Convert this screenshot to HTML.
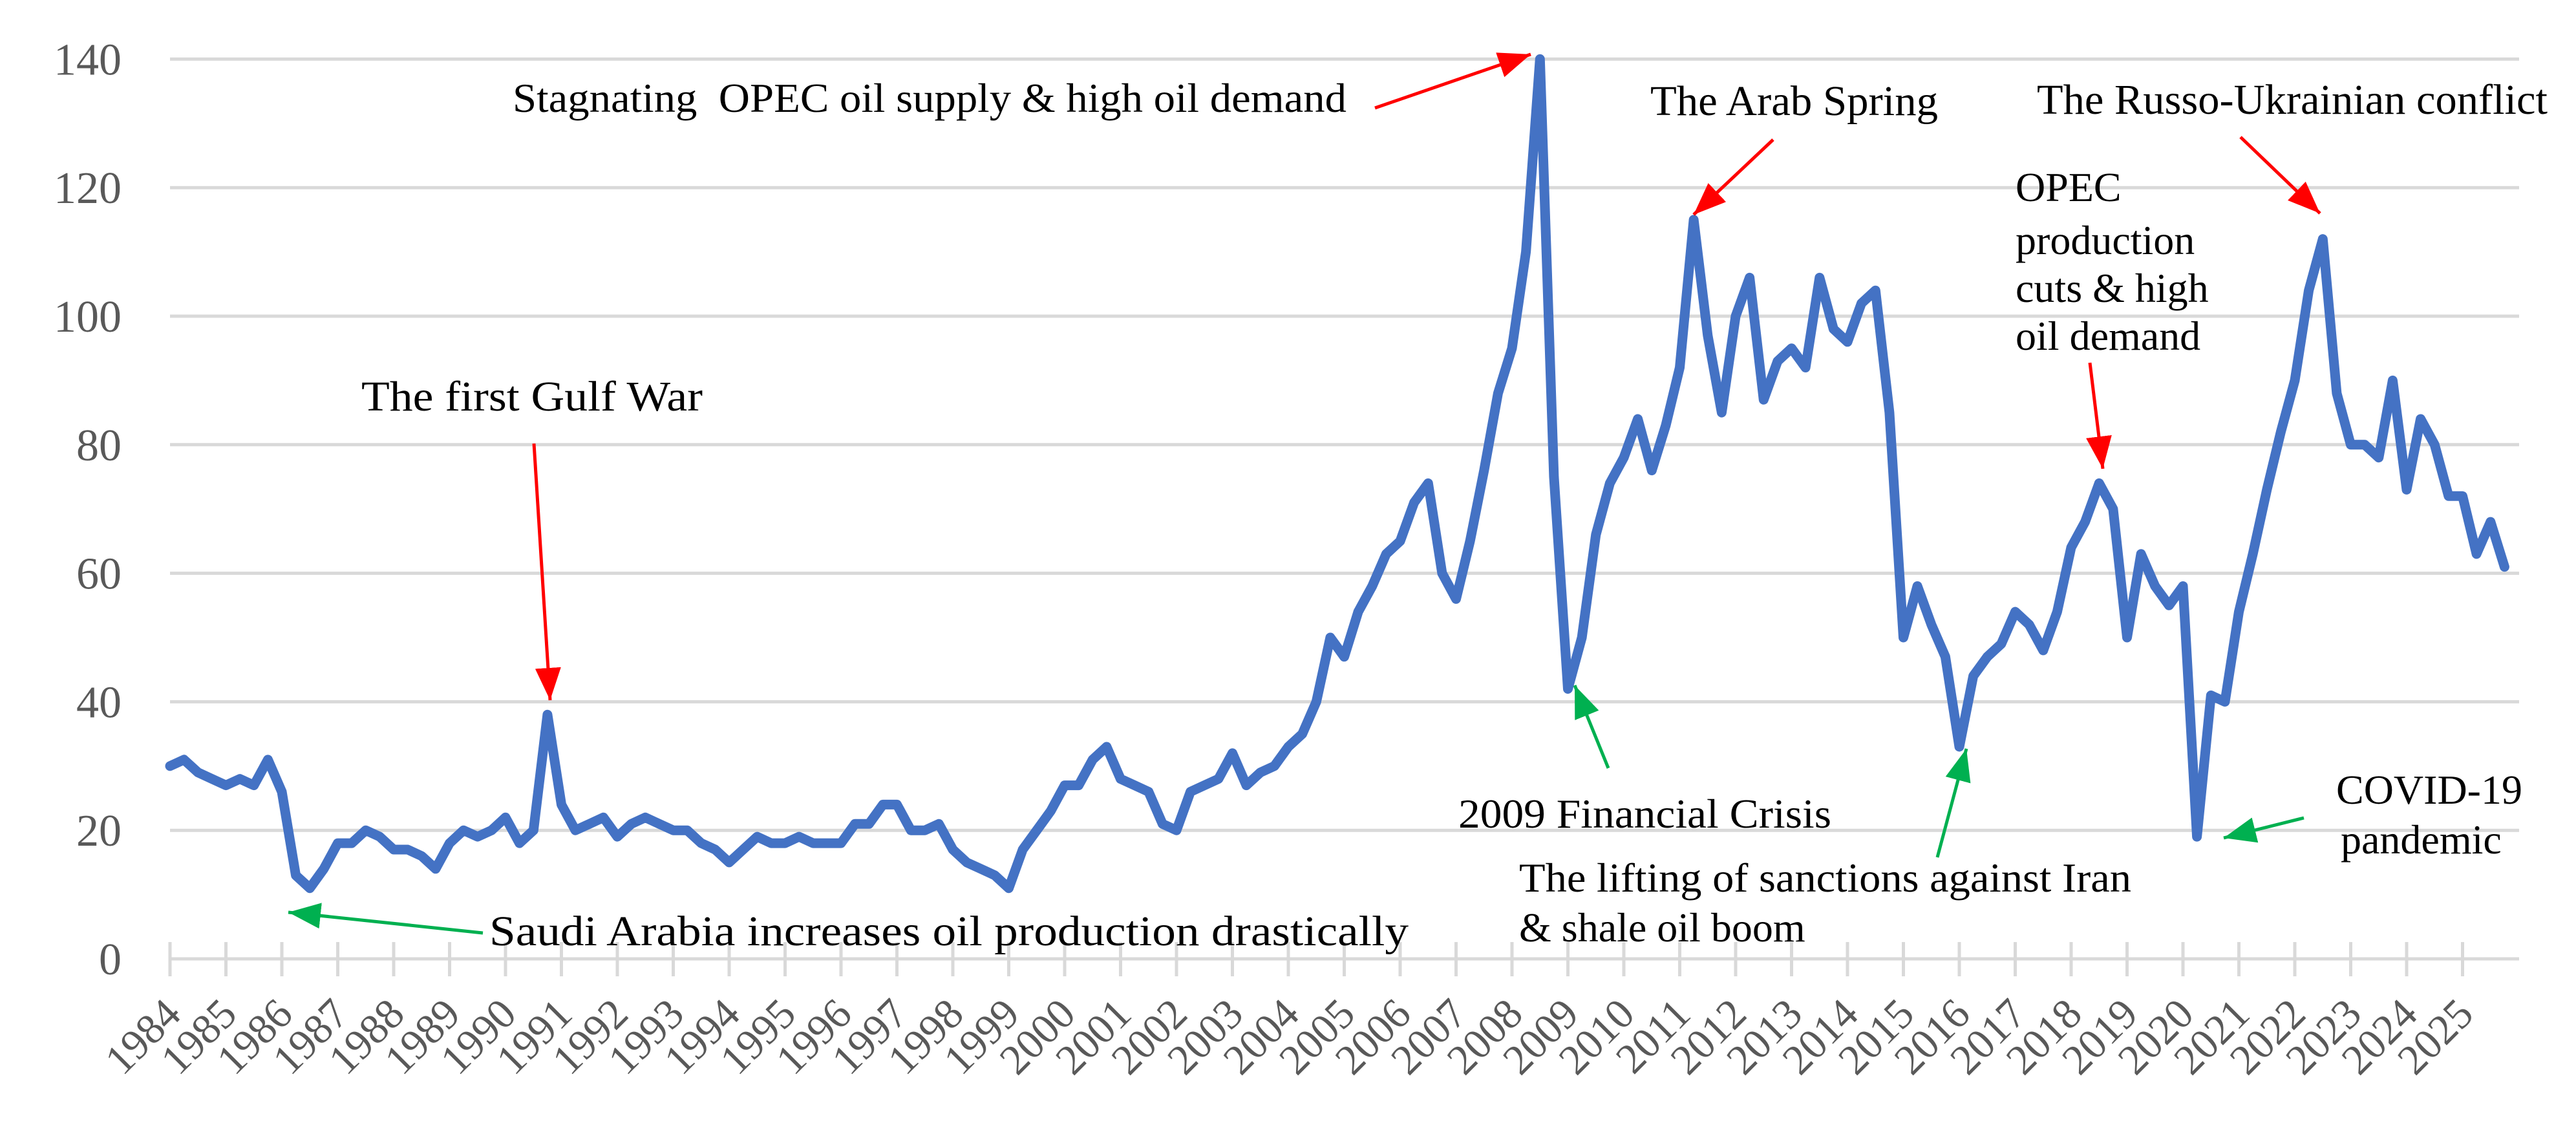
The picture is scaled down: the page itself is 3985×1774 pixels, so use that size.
<!DOCTYPE html>
<html>
<head>
<meta charset="utf-8">
<style>
html,body{margin:0;padding:0;background:#fff;}
svg{display:block;}
text{font-family:"Liberation Serif","Times New Roman",serif;}
</style>
</head>
<body>
<svg id="chart" width="3985" height="1774" viewBox="0 0 3985 1774" xmlns="http://www.w3.org/2000/svg">
<defs>
<marker id="redhead" markerUnits="userSpaceOnUse" markerWidth="60" markerHeight="50" refX="50" refY="20" orient="auto">
<path d="M0,0 L50,20 L0,40 Z" fill="#ff0000"/>
</marker>
<marker id="greenhead" markerUnits="userSpaceOnUse" markerWidth="60" markerHeight="50" refX="50" refY="20" orient="auto">
<path d="M0,0 L50,20 L0,40 Z" fill="#00b050"/>
</marker>
</defs>
<g id="grid"></g>
<g id="yticks"></g>
<g id="xaxis"></g>
<g id="series"></g>
<g id="annotations">
  <text x="793" y="173" font-size="64" fill="#000" xml:space="preserve" textLength="1290" lengthAdjust="spacingAndGlyphs">Stagnating  OPEC oil supply &amp; high oil demand</text>
  <line x1="2127" y1="167" x2="2368" y2="84" stroke="#ff0000" stroke-width="5" marker-end="url(#redhead)"/>
  <text x="2553" y="178" font-size="66" fill="#000" textLength="445" lengthAdjust="spacingAndGlyphs">The Arab Spring</text>
  <line x1="2743" y1="216" x2="2620" y2="332" stroke="#ff0000" stroke-width="5" marker-end="url(#redhead)"/>
  <text x="3151" y="176" font-size="66" fill="#000" textLength="790" lengthAdjust="spacingAndGlyphs">The Russo-Ukrainian conflict</text>
  <line x1="3466" y1="212" x2="3589" y2="330" stroke="#ff0000" stroke-width="5" marker-end="url(#redhead)"/>
  <text font-size="64" fill="#000">
    <tspan x="3118" y="311">OPEC</tspan>
    <tspan x="3118" y="393">production</tspan>
    <tspan x="3118" y="467">cuts &amp; high</tspan>
    <tspan x="3118" y="541">oil demand</tspan>
  </text>
  <line x1="3233" y1="561" x2="3253" y2="725" stroke="#ff0000" stroke-width="5" marker-end="url(#redhead)"/>
  <text x="559" y="635" font-size="66" fill="#000" textLength="528" lengthAdjust="spacingAndGlyphs">The first Gulf War</text>
  <line x1="826" y1="686" x2="851" y2="1083" stroke="#ff0000" stroke-width="5" marker-end="url(#redhead)"/>
  <text x="757" y="1462" font-size="66" fill="#000" textLength="1422" lengthAdjust="spacingAndGlyphs">Saudi Arabia increases oil production drastically</text>
  <line x1="747" y1="1443" x2="446" y2="1411" stroke="#00b050" stroke-width="5" marker-end="url(#greenhead)"/>
  <text x="2256" y="1280" font-size="64" fill="#000" textLength="577" lengthAdjust="spacingAndGlyphs">2009 Financial Crisis</text>
  <line x1="2488" y1="1188" x2="2436" y2="1060" stroke="#00b050" stroke-width="5" marker-end="url(#greenhead)"/>
  <text font-size="64" fill="#000">
    <tspan x="2350" y="1379" textLength="947" lengthAdjust="spacingAndGlyphs">The lifting of sanctions against Iran</tspan>
    <tspan x="2350" y="1456">&amp; shale oil boom</tspan>
  </text>
  <line x1="2997" y1="1326" x2="3042" y2="1158" stroke="#00b050" stroke-width="5" marker-end="url(#greenhead)"/>
  <text font-size="64" fill="#000">
    <tspan x="3614" y="1243">COVID-19</tspan>
    <tspan x="3621" y="1320">pandemic</tspan>
  </text>
  <line x1="3564" y1="1265" x2="3440" y2="1296" stroke="#00b050" stroke-width="5" marker-end="url(#greenhead)"/>
</g>
</svg>
<script>
// Data (quarterly: Jan, Apr, Jul, Oct) starting 1984
const startYear = 1984;
const prices = [
 30,31,29,28, 27,28,27,31, 26,13,11,14, 18,18,20,19, 17,17,16,14, 18,20,19,20,
 22,18,20,38, 24,20,21,22, 19,21,22,21, 20,20,18,17, 15,17,19,18, 18,19,18,18,
 18,21,21,24, 24,20,20,21, 17,15,14,13, 11,17,20,23, 27,27,31,33, 28,27,26,21,
 20,26,27,28, 32,27,29,30, 33,35,40,50, 47,54,58,63, 65,71,74,60, 56,65,76,88,
 95,110,140,75, 42,50,66,74, 78,84,76,83, 92,115,97,85, 100,106,87,93, 95,92,106,98,
 96,102,104,85, 50,58,52,47, 33,44,47,49, 54,52,48,54, 64,68,74,70, 50,63,58,55,
 58,19,41,40, 54,63,73,82, 90,104,112,88, 80,80,78,90, 73,84,80,72, 72,63,68,61
];
const yTicks = [0,20,40,60,80,100,120,140];
const years = [];
for (let y = 1984; y <= 2025; y++) years.push(y);

const NS = "http://www.w3.org/2000/svg";
const X0 = 263, PX_PER_YEAR = 86.5, PLOT_RIGHT = 3897;
const Y0 = 1483, PX_PER_UNIT = 9.94;
const xScale = t => X0 + (t - startYear) * PX_PER_YEAR;
const yScale = v => Y0 - v * PX_PER_UNIT;

function mk(tag, attrs){ const e = document.createElementNS(NS, tag); for (const k in attrs) e.setAttribute(k, attrs[k]); return e; }

const grid = document.getElementById('grid');
const yt = document.getElementById('yticks');
yTicks.forEach(v => {
  const l = mk('line', {x1: X0, x2: PLOT_RIGHT, y1: yScale(v), y2: yScale(v), stroke: '#d9d9d9', 'stroke-width': 5});
  
  
  grid.appendChild(l);
  const t = mk('text', {x: 188, y: yScale(v) + 24, 'text-anchor': 'end', 'font-size': 70, fill: '#595959'});
  t.textContent = v;
  
  
  yt.appendChild(t);
});

const xa = document.getElementById('xaxis');
years.forEach(y => {
  const x = xScale(y);
  const tk = mk('line', {x1: x, x2: x, y1: 1457, y2: 1510, stroke: '#d9d9d9', 'stroke-width': 5});
  
  
  xa.appendChild(tk);
  const t = mk('text', {x: x + 20, y: 1572, 'text-anchor': 'end', 'font-size': 66, fill: '#595959', transform: 'rotate(-45 ' + (x + 20) + ' 1572)'});
  t.textContent = y;
  
  
  xa.appendChild(t);
});

const series = document.getElementById('series');
const pts = prices.map((v, i) => xScale(startYear + i / 4).toFixed(1) + ',' + yScale(v).toFixed(1)).join(' ');
const pl = mk('polyline', {points: pts, fill: 'none', stroke: '#4472c4', 'stroke-width': 15, 'stroke-linejoin': 'round', 'stroke-linecap': 'round'});


series.appendChild(pl);
</script>
</body>
</html>
